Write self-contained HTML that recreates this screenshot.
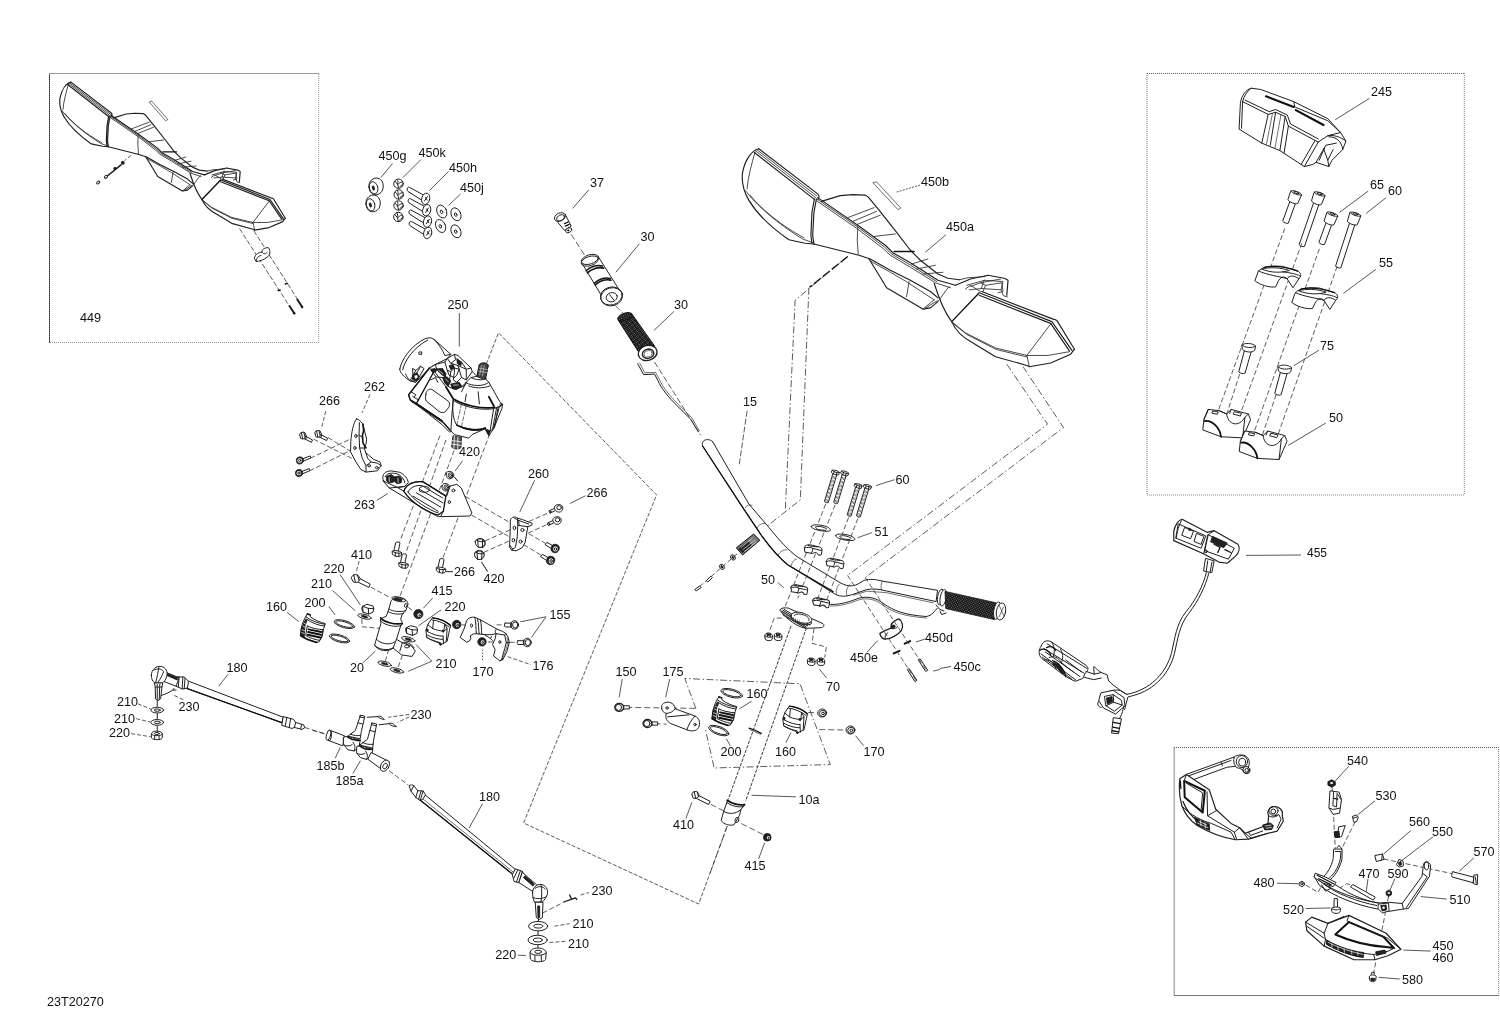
<!DOCTYPE html>
<html><head><meta charset="utf-8"><title>23T20270</title>
<style>
html,body{margin:0;padding:0;background:#fff;}
svg{display:block;}
text{font-family:"Liberation Sans",sans-serif;font-size:12.6px;fill:#111;}
.l{stroke:#202020;stroke-width:1;fill:none;stroke-linecap:round;stroke-linejoin:round;}
.t{stroke:#333;stroke-width:0.7;fill:none;stroke-linecap:round;stroke-linejoin:round;}
.h{stroke:#111;stroke-width:1.3;fill:none;stroke-linecap:round;stroke-linejoin:round;}
.w{stroke:#202020;stroke-width:1;fill:#fff;stroke-linecap:round;stroke-linejoin:round;}
.k{stroke:#111;stroke-width:0.8;fill:#222;stroke-linejoin:round;}
.d{stroke:#333;stroke-width:0.8;fill:none;stroke-dasharray:7 2.5 1.5 2.5;}
.ld{stroke:#3a3a3a;stroke-width:0.85;fill:none;}
path,line,polyline,polygon,ellipse,circle,rect{vector-effect:non-scaling-stroke;}
#guard .l{stroke:#1e1e1e;stroke-width:1.15;}
#guard .t{stroke:#2c2c2c;stroke-width:.85;}
#guard .h{stroke-width:1.4;}
.box{stroke:#555;stroke-width:0.9;fill:none;stroke-dasharray:1 1;}
</style></head><body>
<svg width="1500" height="1010" viewBox="0 0 1500 1010">
<rect x="0" y="0" width="1500" height="1010" fill="#fff"/>
<g id="boxes" fill="none" stroke-width="1">
<!-- box1 -->
<path d="M49.5,73 V343" stroke="#2a2a2a" stroke-dasharray="1.7 0.3"/>
<path d="M49,73.5 H319" stroke="#999"/>
<path d="M318.7,74 V343" stroke="#999" stroke-dasharray="1 1"/>
<path d="M50,342.5 H319" stroke="#999" stroke-dasharray="1 1"/>
<!-- box2 -->
<path d="M1147,73 V495" stroke="#777" stroke-dasharray="1 1"/>
<path d="M1147,73.5 H1464.5" stroke="#666" stroke-dasharray="1 1"/>
<path d="M1464.3,73 V495" stroke="#888" stroke-dasharray="1 1"/>
<path d="M1147,495 H1464.5" stroke="#888" stroke-dasharray="1 1"/>
<!-- box3 -->
<path d="M1174.2,747 V996" stroke="#888"/>
<path d="M1174,747.5 H1499" stroke="#555" stroke-dasharray="1 1"/>
<path d="M1498.6,747 V996" stroke="#888" stroke-dasharray="1 1"/>
<path d="M1174,995.5 H1499" stroke="#777"/>
</g>
<g id="labels" style="filter:grayscale(1)">
<text x="80" y="322">449</text>
<text x="378.5" y="159.5">450g</text>
<text x="418.5" y="157">450k</text>
<text x="449" y="172">450h</text>
<text x="460" y="191.5">450j</text>
<text x="590" y="187">37</text>
<text x="640.5" y="241">30</text>
<text x="674" y="309">30</text>
<text x="447.5" y="309">250</text>
<text x="921" y="186">450b</text>
<text x="946" y="231">450a</text>
<text x="1371" y="96">245</text>
<text x="1370" y="189">65</text>
<text x="1388" y="195">60</text>
<text x="1379" y="267">55</text>
<text x="1320" y="350">75</text>
<text x="1329" y="421.5">50</text>
<text x="1307" y="556.8" style="font-size:12px">455</text>
<text x="364" y="391">262</text>
<text x="319" y="405">266</text>
<text x="459" y="456">420</text>
<text x="354" y="508.8">263</text>
<text x="528" y="478">260</text>
<text x="586.5" y="497">266</text>
<text x="743" y="406">15</text>
<text x="895.5" y="484">60</text>
<text x="874.5" y="535.5">51</text>
<text x="761" y="583.5">50</text>
<text x="351" y="558.5">410</text>
<text x="323.5" y="572.5">220</text>
<text x="311" y="588">210</text>
<text x="304.5" y="607">200</text>
<text x="266" y="610.5">160</text>
<text x="431.5" y="595">415</text>
<text x="444.5" y="611.3">220</text>
<text x="454" y="576">266</text>
<text x="483.5" y="583">420</text>
<text x="549.5" y="618.5">155</text>
<text x="532.5" y="670">176</text>
<text x="472.5" y="676">170</text>
<text x="435.5" y="667.7">210</text>
<text x="350" y="671.5">20</text>
<text x="226.5" y="672">180</text>
<text x="117" y="706">210</text>
<text x="114" y="722.5">210</text>
<text x="109" y="737">220</text>
<text x="178.5" y="710.5">230</text>
<text x="410.5" y="719">230</text>
<text x="316.5" y="770">185b</text>
<text x="335.5" y="785">185a</text>
<text x="479" y="801">180</text>
<text x="591.5" y="894.7">230</text>
<text x="572.5" y="928">210</text>
<text x="568" y="948">210</text>
<text x="495.3" y="959.3">220</text>
<text x="615.5" y="676">150</text>
<text x="662.5" y="676">175</text>
<text x="746.5" y="697.7">160</text>
<text x="720.5" y="756">200</text>
<text x="775" y="756">160</text>
<text x="863.5" y="756">170</text>
<text x="826" y="691">70</text>
<text x="925" y="641.5">450d</text>
<text x="850" y="661.5">450e</text>
<text x="953.5" y="671">450c</text>
<text x="798.5" y="804">10a</text>
<text x="673" y="829">410</text>
<text x="744.5" y="869.5">415</text>
<text x="1347" y="765">540</text>
<text x="1375.5" y="800">530</text>
<text x="1409" y="825.5">560</text>
<text x="1432" y="836">550</text>
<text x="1473.5" y="855.5">570</text>
<text x="1358.5" y="878">470</text>
<text x="1387.5" y="878">590</text>
<text x="1253.5" y="887">480</text>
<text x="1449.5" y="903.5">510</text>
<text x="1283" y="913.5">520</text>
<text x="1432.5" y="950">450</text>
<text x="1432.5" y="961.7">460</text>
<text x="1402" y="983.8">580</text>
<text x="47" y="1006">23T20270</text>
</g>
<defs>
<g id="guard">
<!-- coordinates in 4x zoom space of region (730,135) -->
<!-- left paddle -->
<path class="l" d="M115,55 C85,62 60,100 50,150 C45,190 55,225 75,260 C105,310 165,370 235,418 L300,432 L335,435"/>
<path class="l" d="M115,55 L350,235 C356,240 357,250 352,256"/>
<path class="t" d="M108,59 L346,243 M103,64 L342,250"/><path class="l" d="M97,70 L338,258"/>
<path class="t" d="M100,68 C88,110 72,165 68,215"/>
<path class="t" d="M62,222 C100,275 190,355 290,415 L330,430 M80,240 C120,290 200,360 295,410"/>
<path class="l" d="M345,255 L335,310 L330,400 L335,435 M337,255 L327,310 L323,400 L327,432"/>
<!-- center -->
<path class="l" d="M365,265 L440,242 L490,238 L540,240 L552,248 L595,300 L670,395 L720,460 L760,500 L830,555 L870,572 L915,578"/>
<path class="l" d="M350,250 L510,360 L620,440 L650,470 L720,510 L830,580 L900,600"/>
<path class="t" d="M345,262 L505,372 L610,452 L640,480 L720,528 L820,590 L880,610"/>
<path class="t" d="M470,330 L575,290 M490,345 L585,305 M505,358 L600,320 M575,405 L660,395"/>
<path class="h" d="M655,465 L735,465"/>
<path class="t" d="M725,515 L790,495 M745,535 L820,520 M770,555 L850,548"/>
<path class="t" d="M510,365 L508,420 L512,475"/>
<path class="l" d="M335,435 L515,480 L560,495 L640,540 L720,580 L800,625 L830,650"/>
<path class="l" d="M555,495 L595,560 L625,610 L770,695 L800,690 L830,665"/>
<path class="t" d="M560,503 L640,548 L700,583 L760,622 L815,658 M715,585 L705,645 M770,695 L815,658 M780,692 L826,662"/>
<path class="l" d="M815,592 C830,640 850,700 885,745"/>
<path class="t" d="M830,665 C850,640 860,620 875,605"/>
<!-- neck -->
<path class="l" d="M900,600 L960,575 L1030,560 L1095,572 L1110,580 L1105,640"/>
<path class="t" d="M915,578 L950,570 L1020,565 M960,605 L1000,590 L1080,575 M1020,600 L1085,590 L1090,625 L1070,630 M940,615 L960,600 L1000,625 M1000,590 L1020,600 L1010,625"/>
<path class="t" d="M1016,580 L1090,585 L1082,618 L1005,613 Z M1082,618 L1092,642 L1107,646 M945,600 L1016,580 M955,618 L1005,613"/>
<!-- right paddle -->
<path class="h" d="M995,630 L885,745"/>
<path class="l" d="M1005,625 L1290,735 C1298,736 1303,738 1306,742 L1375,855"/>
<path class="l" d="M1000,632 L1285,745 L1365,860 M995,640 L1280,752 L1355,862"/>
<path class="l" d="M885,745 C900,780 930,810 970,830 L1060,885 L1185,920 L1195,925 L1280,910 L1360,875 L1375,855"/>
<path class="t" d="M885,745 L940,790 L1060,850 L1185,880 M1282,752 L1185,880 L1195,925 M1185,880 L1270,880 L1355,865"/>
<path class="t" d="M890,752 L945,796 L1062,856 L1185,886 M348,256 L508,366 L615,446 L645,475 L720,519 L825,585"/>
</g>
</defs>
<use href="#guard" transform="translate(730,135) scale(0.2505)"/>
<path class="t" d="M873.3,182.6 L876.5,181.8 L900.8,208.1 L898.3,209.4 Z"/>
<g id="box1">
<use href="#guard" transform="translate(51.4,72.8) scale(0.1701)"/>
<path class="t" d="M149.6,101.8 L151.6,101 L167.8,119.4 L166,120.6 Z"/>
<!-- dashed to clip & screws -->
<path class="d" style="stroke-dasharray:5 2" d="M239.6,228.7 L290,307 M253.9,230.9 L298,300"/>
<path class="w" d="M254.5,258 C255,254 259,252.5 262,252 C262,249.5 264,248 268,247.5 C270.5,249 270.5,254 268,256.5 C264,260 259,261.5 256.5,261.5 Z"/>
<path class="l" d="M262,252 C263,254 265,254.5 267,252.5 M256.5,261.5 C256,258.5 258,256 261,255.5"/>
<path class="h" d="M278,290.6 L280.2,290 M285.2,284 L287.4,283.4"/>
<path class="l" style="stroke-width:2" d="M289.5,306 L294.2,313.2 M297.3,299.5 L302,306.8"/>
<circle class="k" cx="294.3" cy="313.3" r="0.9"/><circle class="k" cx="302.1" cy="307" r="0.9"/>
<!-- left bolt assembly -->
<path class="d" style="stroke-dasharray:4 2" d="M131,155.5 L124.5,160.5"/>
<path class="l" style="stroke-width:1.6" d="M105.5,177.5 L121,164.8"/>
<circle class="k" cx="122.8" cy="162.8" r="1.5"/><circle class="k" cx="115" cy="168.5" r="1.2"/>
<ellipse class="w" cx="98.2" cy="182.5" rx="1.8" ry="1.1" transform="rotate(-38 98.2 182.5)"/>
<ellipse class="w" cx="106" cy="176.8" rx="1.8" ry="1.2" transform="rotate(-38 106 176.8)"/>
</g>
<g id="hw450" transform="translate(350,140) scale(0.1)">
<!-- spacers 450g -->
<g id="sp450">
<path class="w" d="M190,470 C185,420 215,385 262,380 C310,382 335,420 332,470 C330,515 300,545 255,548 C215,545 193,515 190,470 Z"/>
<ellipse class="l" cx="236" cy="478" rx="42" ry="62" transform="rotate(-15 236 478)"/>
<ellipse class="k" cx="234" cy="480" rx="10" ry="22" transform="rotate(-15 234 480)"/>
</g>
<use href="#sp450" transform="translate(-30,170)"/>
<!-- nuts 450k -->
<g id="nut450"><circle class="w" cx="485" cy="437" r="47"/><path class="l" d="M452,415 C470,430 480,445 485,480 M485,440 C500,425 515,415 528,418 M470,395 C480,410 482,425 478,440 M500,470 C505,455 515,448 530,450"/></g>
<use href="#nut450" transform="translate(2,108)"/><use href="#nut450" transform="translate(0,218)"/><use href="#nut450" transform="translate(-2,333)"/>
<!-- bolts 450h -->
<g id="bolt450"><path class="w" d="M735,550 L592,472 C575,465 562,500 580,515 L715,600"/><ellipse class="w" cx="757" cy="588" rx="40" ry="58" transform="rotate(15 757 588)"/><path class="l" d="M745,610 L775,565 M755,575 L770,600"/></g>
<use href="#bolt450" transform="translate(10,114)"/><use href="#bolt450" transform="translate(18,228)"/><use href="#bolt450" transform="translate(20,342)"/>
<!-- washers 450j -->
<g id="wash450"><ellipse class="w" cx="918" cy="715" rx="47" ry="68" transform="rotate(-25 918 715)"/><ellipse class="l" cx="915" cy="718" rx="12" ry="18" transform="rotate(-25 915 718)"/></g>
<use href="#wash450" transform="translate(142,28)"/><use href="#wash450" transform="translate(-12,145)"/><use href="#wash450" transform="translate(142,198)"/>
<path class="ld" d="M425,235 L310,375 M710,195 L530,375 M985,315 L795,505 M1105,540 L985,655"/>
</g>
<defs>
<pattern id="knurl" width="8" height="8" patternUnits="userSpaceOnUse" patternTransform="rotate(32)"><rect width="8" height="8" fill="#111"/><rect width="2.8" height="3" fill="#ddd"/></pattern>
</defs>
<g id="grip30" transform="translate(540,170) scale(0.20786)">
<!-- 37 plug -->
<path class="w" d="M78,243 L118,290 L150,270 L122,215 Z"/>
<ellipse class="w" cx="96" cy="226" rx="28" ry="19" transform="rotate(-25 96 226)"/>
<ellipse class="l" cx="99" cy="230" rx="20" ry="13" transform="rotate(-25 99 230)"/>
<path class="h" d="M118,258 L135,250 M122,270 L140,262"/>
<ellipse class="w" cx="138" cy="290" rx="16" ry="11" transform="rotate(-25 138 290)"/>
<ellipse class="k" cx="136" cy="291" rx="4" ry="3"/>
<path class="d" style="stroke-dasharray:6 3" d="M150,310 L215,410 M362,652 L402,692"/>
<!-- 30 inner tube -->
<path class="w" d="M200,445 L298,608 L380,575 L282,420 Z"/>
<ellipse class="w" cx="240" cy="430" rx="43" ry="22" transform="rotate(-18 240 430)"/>
<ellipse class="l" cx="240" cy="438" rx="43" ry="22" transform="rotate(-18 240 438)"/>
<path class="h" style="stroke-width:1.6" d="M222,485 C240,465 275,455 300,462 M228,495 C246,475 281,465 306,472 M262,545 C280,525 312,515 338,522 M266,553 C284,533 316,523 342,530"/>
<ellipse class="w" cx="345" cy="610" rx="53" ry="43" transform="rotate(-15 345 610)"/>
<ellipse class="l" cx="343" cy="606" rx="53" ry="43" transform="rotate(-15 343 606)"/>
<ellipse class="l" cx="345" cy="612" rx="27" ry="22" transform="rotate(-15 345 612)"/>
<path class="l" d="M335,600 L355,625"/>
<!-- 30 grip -->
<path d="M376,722 L472,872 L552,848 L440,690 Z" fill="url(#knurl)" stroke="#111" stroke-width="1"/>
<ellipse cx="408" cy="706" rx="36" ry="17" transform="rotate(-20 408 706)" fill="url(#knurl)" stroke="#111" stroke-width="1"/>
<ellipse class="w" style="stroke-width:1.4" cx="518" cy="880" rx="46" ry="36" transform="rotate(-15 518 880)"/>
<ellipse class="l" style="stroke-width:1.4" cx="520" cy="884" rx="28" ry="22" transform="rotate(-15 520 884)"/>
<ellipse class="t" cx="520" cy="884" rx="20" ry="15" transform="rotate(-15 520 884)"/>
<path class="ld" d="M235,95 L157,185 M478,355 L365,492 M645,680 L548,772"/>
</g>
<defs>
<pattern id="knurl2" width="1.7" height="1.7" patternUnits="userSpaceOnUse" patternTransform="rotate(25)"><rect width="1.7" height="1.7" fill="#111"/><rect width="0.6" height="0.65" fill="#ddd"/></pattern>
</defs>
<g id="handlebar">
<!-- long L dashed lines from guards -->
<path class="d" d="M847.7,256.5 L795.1,300.3 L785.3,510 M808.9,287.8 L800.3,499.9 L764.1,528.5"/>
<path class="d" d="M1006.8,364.2 L1047.5,424.2 L847.6,575.4 M1023,366.7 L1063.5,427.5 L865.3,577.5"/>
<path class="h" style="stroke-width:1.3;stroke-dasharray:9 2.5;stroke-linecap:butt" d="M847.7,256.5 L809.5,287.3"/>
<!-- cable lever -->
<path class="l" d="M637.7,363.7 L643.6,374.6 L654.5,374.1 L657.9,380.5 C661,388 669,398 677.2,405.8 L690.7,419.2 L698.3,431.9"/>
<path class="t" d="M639.6,363 L644.8,372.8 L655.6,372.4 L659.5,379.6 C662.6,387 670.5,397 678.5,404.6 L692,418.2 L699.4,430.8"/>
<path class="d" style="stroke-dasharray:6 2.5" d="M654.5,362 L700.8,435.2"/>
<!-- bar -->
<path class="w" d="M712.7,441.8 L748.9,504.1 L769.1,527.6 C780,541 788,550 797.7,557.1 L838.1,581.5 C846,586.5 852,587 858,584 L863.9,580.4 C870,578.5 876,579.5 882.3,581.1 L937.5,590.3 L936.1,601.6 L886.6,591 C879,589 873,588.5 866.7,589.6 L852.6,594.5 C846,596.5 841,597 835.6,594.5 L787.6,564.7 C778,557 769,546 760.7,534.4 L740.5,504.1 L702.6,446 C701.5,442 704,439.5 707.7,439.6 C710,439.8 711.5,440.5 712.7,441.8 Z"/>
<path class="h" d="M702.6,446 L740.5,504.1 L760.7,534.4 C769,546 778,557 787.6,564.7 L833.1,591.6"/>
<path class="t" d="M745.5,507.5 C746.5,505 749.5,504 752,505.5 M757.5,527.6 C759,524.5 762,523 765,523.5 M778.4,554.6 C780,551.5 783.5,549.5 787,549.8 M791,566.4 C792,562 794,559.5 796.5,559 M836.5,594.5 C835.5,590.5 837,586.5 839.5,584 M847,596 C845.5,591.5 847,587 850,584.5 M882.3,581.1 C881,584 880.5,587 881.6,590 M853.6,595.2 L866.8,591.2 L886,592.6 L933.3,602.9"/>
<!-- cable -->
<path class="l" d="M830.6,604.4 C841,605 851,601 859.6,598 C868,596 876.6,598 883.7,603.7 C893.6,610.8 905,615 926.2,616.5 C932,615.8 934.7,610.8 937.5,608"/>
<path class="t" d="M830.6,606 C841,606.6 851,602.6 859.6,599.6 C868,597.6 876,599.6 883,605.3 C893,612.4 905,616.6 926.6,618"/>
<!-- right grip -->
<ellipse class="w" cx="940.6" cy="597" rx="3" ry="8" transform="rotate(10 940.6 597)"/>
<ellipse class="w" cx="943.2" cy="597.8" rx="3" ry="8.4" transform="rotate(10 943.2 597.8)"/>
<path d="M945,591.4 L996,602.8 L994.4,619.6 L945.8,608.6 Z" fill="url(#knurl2)" stroke="#111" stroke-width="0.8"/>
<ellipse class="w" cx="997.2" cy="610.6" rx="3.4" ry="8.8" transform="rotate(10 997.2 610.6)"/>
<ellipse class="w" cx="1001" cy="611.5" rx="4.6" ry="8.6" transform="rotate(10 1001 611.5)"/>
<path class="t" d="M999,605 L1004,616 M1003.5,607 L999,617"/>
<path class="l" d="M936,605 C938,608 940,610 944,611 M940,611 L941.5,614.5 L946,613"/>
</g>
<defs>
<g id="bolt60"><!-- local: head top at 0,0 pointing down, zoom units 5.94 -->
<path class="w" d="M-12,14 L-12,188 C-6,193 6,193 12,188 L12,14 Z"/>
<path class="t" style="stroke-dasharray:2 2" d="M-5,30 L-5,186 M4,30 L4,186"/>
<path class="w" d="M-23,-2 C-23,-10 23,-10 23,-2 L22,12 C15,19 -15,19 -22,12 Z"/>
<path class="l" d="M-23,-2 C-15,5 15,5 23,-2 M-8,2 L-8,16 M9,2 L9,16"/>
</g>
<g id="clampU"><!-- upper saddle clamp; local origin = bbox left/top, zoom units -->
<path class="w" d="M4,22 C2,8 18,0 40,2 L98,16 C108,20 112,30 108,42 L104,62 L88,64 C84,50 72,44 60,50 C52,54 48,60 46,52 L10,46 Z"/>
<path class="l" d="M4,22 C20,14 40,16 56,24 L108,36 M56,24 C54,34 50,44 46,52 M28,6 C40,10 60,14 84,14"/>
</g>
</defs>
<g id="clampsB" transform="translate(690,430) scale(0.16835)">
<!-- dashed center lines for the 4 bolts -->
<path class="d" style="stroke-dasharray:5 2.5" d="M806,440 L560,1062 M862,445 L640,1000 M942,520 L735,1062 M997,525 L795,1055"/>
<use href="#bolt60" transform="translate(865,248) rotate(17)"/>
<use href="#bolt60" transform="translate(920,253) rotate(17)"/>
<use href="#bolt60" transform="translate(1000,328) rotate(17)"/>
<use href="#bolt60" transform="translate(1055,333) rotate(17)"/>
<!-- washers 51 -->
<g id="w51"><path class="w" d="M720,572 C722,562 750,560 790,568 C820,575 838,588 834,596 C828,604 795,603 765,596 C735,589 718,580 720,572 Z"/><path class="l" d="M745,576 C760,568 795,574 812,588 M748,580 L760,592 L805,596"/></g>
<use href="#w51" transform="translate(145,55)"/>
<!-- upper clamps -->
<use href="#clampU" transform="translate(675,680)"/>
<use href="#clampU" transform="translate(805,760)"/>
<!-- lower clamps 50 -->
<use href="#clampU" transform="translate(595,917) scale(0.95)"/>
<use href="#clampU" transform="translate(725,995) scale(0.95)"/>
<!-- connector -->
<path d="M275,700 L378,618 L415,655 L312,742 Z" fill="#777" stroke="#111" stroke-width="1"/>
<path class="k" d="M290,705 L345,662 L365,685 L312,728 Z"/>
<path d="M300,700 L372,642 M312,712 L388,652 M322,722 L398,662" stroke="#eee" stroke-width="0.7" fill="none" vector-effect="non-scaling-stroke"/>
<path class="d" style="stroke-dasharray:5 2.5" d="M280,735 L40,945"/>
<ellipse class="w" cx="255" cy="757" rx="13" ry="17" transform="rotate(-40 255 757)"/><ellipse class="k" cx="255" cy="757" rx="5" ry="8" transform="rotate(-40 255 757)"/>
<ellipse class="w" cx="190" cy="813" rx="13" ry="17" transform="rotate(-40 190 813)"/><ellipse class="k" cx="190" cy="813" rx="5" ry="8" transform="rotate(-40 190 813)"/>
<path class="w" d="M98,893 L124,868 L133,877 L107,902 Z M30,946 L58,926 L66,936 L38,955 Z"/>
<path class="ld" d="M1105,330 L1215,295 M995,640 L1080,610 M520,905 L557,937"/>
</g>
<defs>
<g id="nut70"><!-- small flanged nut, ~50x50 zoom units -->
<path class="w" d="M2,18 C2,6 14,0 28,2 C42,4 50,14 48,26 L46,40 C40,50 14,50 6,40 Z"/>
<path class="l" d="M2,18 C10,28 38,30 48,24 M16,4 L18,22 M36,6 L34,24"/>
<ellipse class="k" cx="25" cy="12" rx="9" ry="5"/>
</g>
</defs>
<g id="colTopD" transform="translate(690,560) scale(0.16835)">
<!-- column tube edges -->
<path class="t" style="stroke-width:0.9;stroke-dasharray:3.4 1.3;stroke:#222;stroke-linecap:butt" d="M600,392 L227.5,1421 M692,402 L330,1433"/>
<!-- mount plate -->
<path class="w" d="M535,296 C540,284 560,282 585,286 L790,378 C800,386 796,398 780,402 L735,404 L690,406 C650,400 600,370 560,330 Z"/>
<path class="l" d="M545,304 L690,398 M552,298 L700,392 M560,294 L712,386"/>
<path class="w" d="M600,330 C600,312 640,302 680,318 C715,332 730,350 720,366 C705,380 660,378 630,362 C610,352 600,342 600,330 Z"/>
<path class="l" d="M620,330 C625,318 655,316 685,330 C705,340 712,352 705,360 M600,330 L600,345 C610,368 680,395 720,380 L720,366"/>
<path class="t" d="M546,303 L558,329 M557,310 L567,334 M569,316 L577,340 M580,323 L586,346 M591,330 L596,351 M603,336 L606,357 M614,343 L615,362 M626,349 L625,368 M637,356 L634,373 M649,362 L644,379 M660,369 L654,384 M671,376 L663,390 M683,382 L673,396 M694,389 L682,401"/>
<path class="l" d="M553,326 L687,404"/>
<!-- nuts 70 -->
<use href="#nut70" transform="translate(442,432)"/><use href="#nut70" transform="translate(498,432)"/>
<use href="#nut70" transform="translate(695,580)"/><use href="#nut70" transform="translate(752,580)"/>
<path class="d" style="stroke-dasharray:5 2.5" d="M545,345 L500,345 L470,430 M737,405 L725,495 L810,517 L800,580"/>
<path class="ld" d="M770,650 L812,702"/>
<!-- clamp 450e -->
<path class="w" style="stroke-width:1.3" d="M1128,436 C1150,420 1175,412 1195,405 C1190,385 1200,365 1240,350 C1262,362 1270,395 1255,420 C1235,445 1195,468 1160,470 C1145,470 1130,455 1128,436 Z"/>
<path class="l" d="M1195,405 C1205,412 1220,410 1235,395 M1160,470 C1155,455 1160,440 1175,432"/>
<path class="k" d="M1196,392 C1205,385 1215,385 1220,392 C1215,405 1205,410 1196,405 Z"/>
<!-- 450d washers and 450c pins -->
<path class="h" style="stroke-width:2" d="M1275,497 L1308,482 M1210,555 L1245,540"/>
<path class="w" d="M1358,592 L1367,587 L1412,655 L1402,661 Z M1293,650 L1302,645 L1348,715 L1338,721 Z"/>
<path class="ld" d="M1115,478 L1052,548 M1342,487 L1395,470 M1445,660 L1485,650"/>
</g>
<!-- dashed lines through 450e/d/c -->
<path class="d" style="stroke-dasharray:5 2.5" d="M847.6,575.4 L916,680.5 M865.3,577.5 L926.5,670.5"/>
<path class="ld" d="M940,668.5 L951,666.5"/>
<defs>
<g id="bushL">
<path class="w" d="M235,150 L270,160 L275,185 C330,230 400,255 460,270 L440,330 L420,430 L380,500 L350,505 C280,480 200,450 150,420 L160,330 C170,270 200,200 235,150 Z"/>
<path class="k" d="M160,330 L215,215 L232,228 L206,300 L196,442 L150,420 Z"/>
<path d="M165,345 L205,360 M160,380 L200,395 M178,300 L212,315 M192,265 L222,280" stroke="#fff" stroke-width="0.7" fill="none"/>
<path class="l" d="M215,185 C280,235 380,270 455,278 M225,215 C290,262 380,295 448,300 M235,300 C300,330 380,345 430,345 L415,440 L390,480 C330,470 260,445 215,420 L235,300"/>
<path class="h" style="stroke-width:2" d="M252,342 L410,376 M246,376 L404,410 M240,410 L396,444"/>
<path class="h" style="stroke-width:1.6" d="M150,420 C200,455 290,490 350,505 M235,150 L270,160"/>
</g>
<g id="bushR">
<path class="w" d="M1120,265 C1200,270 1290,310 1345,355 L1330,420 L1300,560 L1240,590 L1215,610 L1200,580 C1150,560 1090,540 1045,510 L1035,420 L1060,350 Z"/>
<path class="h" d="M1120,265 C1200,275 1290,315 1340,360"/>
<path class="l" d="M1110,290 C1190,300 1270,335 1325,380 M1130,300 L1120,400 C1170,420 1220,430 1260,430 L1270,345 M1060,440 C1120,475 1200,495 1250,495 M1050,480 C1110,515 1190,535 1245,535 M1045,510 C1100,545 1170,565 1215,575 M1270,345 L1300,400 L1290,560 M1250,495 L1255,590 M1060,350 L1120,400 M1260,430 L1300,400"/>
<ellipse class="k" cx="1052" cy="420" rx="12" ry="16"/><path class="k" d="M1240,420 L1262,424 L1258,445 L1238,440 Z M1205,585 L1235,590 L1218,608 Z"/>
</g>
<g id="nut170"><ellipse class="w" cx="0" cy="0" rx="22" ry="20"/><ellipse class="l" cx="3" cy="2" rx="17" ry="15"/><ellipse class="l" cx="4" cy="2" rx="7" ry="6"/></g>
<g id="bolt150"><path class="w" d="M20,-8 L50,-8 L50,8 L20,8 Z"/><ellipse class="w" style="stroke-width:1.3" cx="0" cy="0" rx="22" ry="20"/><ellipse class="l" cx="-3" cy="0" rx="15" ry="15"/><path class="l" d="M22,-10 L22,10"/></g>
</defs>
<use href="#bushL" transform="translate(700,685) scale(0.08)"/><use href="#bushR" transform="translate(700,685) scale(0.08)"/>
<g id="colLowE" transform="translate(600,670) scale(0.20202)">
<!-- dash-dot parallelogram -->
<path class="d" d="M475,192 L420,42 L990,68 L1140,468 L565,485 L520,285"/>
<path class="d" style="stroke-dasharray:6 3" d="M130,185 L475,190 M270,265 L330,268 M1030,210 L1078,212 M1085,295 L1215,297"/>
<!-- rings 200 -->
<ellipse class="l" cx="652" cy="115" rx="55" ry="20" transform="rotate(15 652 115)"/><ellipse class="l" cx="652" cy="115" rx="46" ry="14" transform="rotate(15 652 115)"/>
<ellipse class="l" cx="588" cy="300" rx="53" ry="20" transform="rotate(20 588 300)"/><ellipse class="l" cx="588" cy="300" rx="44" ry="14" transform="rotate(20 588 300)"/>

<!-- clip on column -->
<path class="h" d="M738,288 L765,297 L798,314"/><path class="t" d="M742,296 L795,318"/>
<!-- bracket 175 -->
<path class="w" d="M305,190 C300,170 320,155 345,160 C362,165 372,178 372,192 L470,228 C492,238 498,262 488,285 C478,302 455,306 430,296 L350,265 C330,255 322,235 328,215 C315,212 307,202 305,190 Z"/>
<path class="l" d="M372,192 C365,205 345,215 328,215 M335,232 L440,222 M430,296 C438,272 452,245 470,228"/>
<circle class="l" cx="332" cy="188" r="6"/><circle class="l" cx="470" cy="270" r="6"/>
<use href="#bolt150" transform="translate(95,185)"/><use href="#bolt150" transform="translate(235,265)"/>
<use href="#nut170" transform="translate(1100,213)"/><use href="#nut170" transform="translate(1240,297)"/>
<!-- column bottom -->
<path class="w" d="M632,645 L612,700 L600,745 C612,765 648,773 664,765 L690,720 L698,690 L715,668"/>
<path class="h" style="stroke-width:1.8" d="M630,645 C650,662 690,672 716,666"/>
<path class="l" d="M626,655 C646,672 686,682 712,676 M612,700 C630,712 670,718 698,690"/>
<ellipse class="l" cx="678" cy="742" rx="9" ry="13" transform="rotate(20 678 742)"/>
<path class="d" style="stroke-dasharray:6 3" d="M630,772 L545,1005 M548,665 L622,702 M700,760 L810,816"/>
<!-- bolt 410 -->
<path class="w" d="M482,618 L545,650 L538,666 L474,634 Z"/>
<path class="w" d="M455,612 C458,602 472,598 482,604 L490,618 C488,632 474,640 462,634 Z"/><path class="l" d="M466,602 L474,636 M482,604 L488,628"/>
<!-- nut 415 -->
<circle class="k" cx="828" cy="828" r="19"/><circle cx="834" cy="830" r="8" fill="#fff"/><circle class="k" cx="835" cy="831" r="3"/>
<path class="ld" d="M455,655 L425,735 M815,855 L785,935 M750,620 L970,628 M110,45 L95,135 M345,45 L325,135 M750,155 L690,192 M625,340 L645,375 M945,310 L920,360 M1265,325 L1305,375"/>
</g>
<!-- big dash polygon -->
<path class="d" style="stroke-dasharray:4 1.7" d="M486.3,364 L498.5,332.8 L656.6,494.9 L523.6,823 L698.7,904 L727.3,826"/>
<g id="motorF" transform="translate(395,330) scale(0.11881)">
<!-- cylinder -->
<path class="w" d="M40,330 C50,260 130,130 260,70 L300,65 L330,80 L470,205 L440,240 L340,290 L290,320 L175,440 L130,430 C80,400 40,360 40,330 Z"/>
<path class="l" d="M65,335 C75,270 150,150 275,85 M330,80 C370,120 400,170 420,215 L470,205 M130,430 C110,410 95,390 90,370"/>
<rect class="l" x="205" y="185" width="20" height="20"/>
<!-- connector -->
<path class="w" d="M150,325 L175,340 L215,305 L245,325 L200,400 L175,440 L130,420 L150,385 Z"/>
<path class="k" d="M150,375 L185,360 L205,395 L175,430 L145,415 Z"/><path d="M162,385 L185,378 L192,398 L172,412 Z" fill="#fff"/>
<path class="l" d="M175,340 L150,385 M215,305 L185,360"/>
<!-- main box -->
<path class="w" d="M115,545 L290,320 L340,290 L420,270 L440,240 L500,205 L530,215 L640,320 L650,350 L690,390 L710,290 C730,270 770,275 785,295 L760,410 L790,440 L880,600 L905,625 L900,660 L830,830 L790,890 L760,830 L650,880 L620,910 L500,880 L470,850 L390,760 L180,620 L130,590 Z"/>
<path class="h" d="M115,545 L290,320 M115,545 L130,590 L180,620 L390,760 L470,850 M180,620 L330,345"/>
<path class="l" d="M150,560 L200,590 M135,520 L175,545 L165,560 M330,345 L430,480 L490,580 L480,700 L470,850 M200,640 L400,800 L460,860 M290,320 L300,330 L350,330 L400,330 M220,640 L240,670 L300,700"/>
<path class="l" d="M260,540 C255,520 285,490 310,500 L450,600 C465,615 460,640 450,655 L420,690 C405,700 385,695 370,685 L265,600 C255,585 255,560 260,540 Z"/>
<!-- housing top / bracket -->
<path class="l" d="M340,290 L350,330 M420,270 L440,340 L470,350 L500,320 L540,330 L560,400 L600,420 L650,350 M440,240 L470,280 L530,300 L600,330 L640,320 M500,205 L510,250 L470,280 M530,300 L540,330 M500,320 L500,360 L490,420 L520,440 L560,400 M560,270 L600,330 L600,420 M470,350 L460,420 L440,470 M400,330 L430,400 L440,470 L500,500 L560,480 L600,440"/>
<path class="k" d="M345,328 L400,325 L430,370 L420,395 L380,365 Z M400,400 L440,395 L470,430 L450,470 L420,450 Z M470,455 L540,440 L560,470 L520,500 L480,490 Z M520,240 L560,270 L555,300 L525,285 Z"/>
<path d="M365,338 L405,372 M425,410 L452,440 M490,465 L535,462" stroke="#fff" stroke-width="0.7" fill="none"/>
<path class="h" style="stroke-width:1.8" d="M430,482 L492,582"/>
<!-- dome -->
<path class="h" style="stroke-width:1.6" d="M500,585 C560,622 720,672 840,650"/>
<path class="l" d="M490,590 C520,625 700,685 830,662 L890,640 M600,445 C650,472 740,480 790,440 M640,400 C670,422 740,426 770,410 M560,520 L600,440 L640,400 L690,390 M700,520 L710,622 M600,540 L590,602 M490,590 C480,680 490,760 520,800 C600,850 700,860 760,830 M520,800 C600,838 700,848 760,822 M830,662 L800,850 M905,625 L880,640 L830,830 M760,830 L800,850 L830,830"/>
<path class="h" style="stroke-width:1.8" d="M790,562 L832,640"/>
<path class="t" style="stroke-dasharray:4 2" d="M560,622 L520,800 M600,632 L560,812"/>
<path class="k" d="M762,842 L800,852 L790,888 Z"/>
<path class="h" style="stroke-width:1.5" d="M520,800 C600,842 700,852 760,826 M130,590 L180,620 L392,762"/>
<path class="l" d="M855,655 L822,832 M868,648 L838,820 M300,420 L340,400 L360,440 M310,345 L345,395 L400,400 M440,340 L455,380 L500,400 M540,330 L520,380 L500,400 M600,440 L585,470 L560,480 M620,470 C660,490 740,495 800,470 M135,600 L395,775"/>
<path class="k" d="M300,335 L335,325 L350,345 L320,360 Z M455,300 L490,290 L500,318 L470,335 Z"/>
<circle class="l" cx="892" cy="628" r="9"/>
<!-- shafts -->
<path class="k" style="fill:#444" d="M690,392 L710,292 C730,272 770,276 785,296 L762,408 C740,412 710,405 690,392 Z"/>
<path d="M712,380 L730,295 M735,388 L752,298 M700,345 L778,360 M705,320 L782,335" stroke="#ddd" stroke-width="0.6" fill="none"/>
<path class="k" style="fill:#555" d="M488,890 L476,985 C495,1005 538,1006 556,990 L560,902 Z"/>
<path d="M476,930 L562,942 M474,960 L562,972 M500,890 L495,1000 M530,895 L528,1005" stroke="#fff" stroke-width="0.8" fill="none"/>
</g>
<path class="ld" d="M459.3,313 L459.3,346.5"/>
<!-- misc leaders -->
<path class="ld" style="stroke-dasharray:2 1.2" d="M896.6,192.1 L919.9,185.1"/>
<path class="ld" d="M925.4,252.2 L946,234.7"/>
<path class="d" style="stroke-dasharray:6 2" d="M747.1,410.8 L739.2,464.7"/>
<defs>
<g id="bolt266"><!-- flange bolt, head left, shaft to right-down; local zoom units -->
<path class="w" d="M30,22 L78,48 L72,62 L24,38 Z"/>
<path class="w" d="M2,14 C4,2 22,-2 34,6 L40,22 C38,38 22,46 10,40 Z"/>
<path class="l" d="M12,6 L20,42 M26,2 L34,34 M40,22 C46,30 42,42 34,46"/>
</g>
<g id="boltDk"><!-- dark hex head bolt, head left, shaft right-up -->
<path class="w" d="M38,14 L84,-4 L88,8 L42,28 Z"/>
<path class="k" d="M2,20 C2,8 14,0 28,2 C40,4 46,14 44,26 C42,38 30,46 16,44 C6,42 2,32 2,20 Z"/>
<ellipse cx="22" cy="23" rx="14" ry="13" fill="#fff"/><ellipse class="l" cx="22" cy="23" rx="7" ry="6"/>
</g>
<g id="nut420"><path class="w" d="M2,18 C2,6 16,0 30,4 C44,8 50,20 46,32 C42,44 28,50 16,46 C6,42 2,30 2,18 Z"/><ellipse class="l" cx="28" cy="26" rx="14" ry="15"/><ellipse class="l" cx="29" cy="27" rx="6" ry="7"/></g>
</defs>
<g id="brkG" transform="translate(280,380) scale(0.16835)">
<!-- dashed center lines from motor -->
<path class="d" style="stroke-dasharray:5 2.5" d="M950.4,330.3 L711,960 M986,356.4 L746,1030.6 M1034.2,418.2 L711,1289 M1246.2,318.4 L967,1059.7"/>
<path class="d" style="stroke-dasharray:5 2.5" d="M200,352 L520,512 M285,342 L575,518 M180,465 L450,335 M175,540 L445,405"/>
<use href="#bolt266" transform="translate(115,308)"/><use href="#bolt266" transform="translate(205,298)"/>
<use href="#boltDk" transform="translate(95,455)"/><use href="#boltDk" transform="translate(90,530)"/>
<!-- bracket 262 -->
<g transform="translate(59.4,178.2) scale(0.75238)">
<path class="w" d="M525,70 C500,100 485,180 480,250 L478,330 L520,410 L560,470 L600,490 L690,480 L720,440 L710,410 L660,390 L620,355 L600,340 L585,300 L600,270 L605,230 L590,170 L575,110 C560,90 540,72 525,70 Z"/>
<path class="l" d="M548,100 L545,200 L550,300 L570,380 L600,440 L600,490 M600,440 L640,410 L690,420 L720,440 M600,340 L612,380 L640,410 M545,200 L575,215 M550,300 L585,300"/>
<path class="h" style="stroke-width:1.6" d="M575,110 L582,160 L572,200 L576,260 L600,300"/>
<ellipse class="l" cx="520" cy="205" rx="9" ry="13"/><ellipse class="l" cx="512" cy="300" rx="9" ry="13"/><ellipse class="l" cx="625" cy="440" rx="11" ry="9"/><ellipse class="l" cx="685" cy="455" rx="11" ry="9"/>
</g>
<!-- link 263 -->
<path class="w" d="M612,590 C605,560 625,540 660,540 L710,548 C740,560 760,590 762,610 L740,632 L700,640 L650,640 Z"/>
<path class="l" d="M625,575 C630,555 660,550 690,556 C720,565 740,590 742,612"/>
<path class="k" d="M632,572 L660,562 L680,575 L678,605 L650,612 L632,598 Z M682,575 L708,570 L724,585 L720,610 L696,616 L682,604 Z"/>
<path d="M648,575 L650,605 M700,580 L702,610" stroke="#fff" stroke-width="0.7" fill="none"/>
<!-- base plate 263 -->
<path class="w" d="M612,600 L650,642 L900,792 L940,812 L1128,808 L1140,790 L1076,640 L1050,620 L1010,630 L990,690 L850,605 C800,598 750,615 735,660 L700,640 Z"/>
<path class="h" d="M735,660 C750,615 800,600 850,605 L985,690 L970,780 L940,802 C880,790 780,730 735,660 Z"/>
<path class="l" d="M760,665 C775,635 810,622 845,628 L965,700 M790,690 L940,780 M810,670 L955,755 M830,650 L968,730 M760,665 C800,720 880,770 940,790 M1010,630 L985,690 M970,780 L955,810 M650,642 L740,632"/>
<path class="l" d="M830,640 C850,625 880,630 890,650 C880,670 850,672 830,660 Z"/>
<ellipse class="l" cx="1030" cy="656" rx="9" ry="8"/><ellipse class="l" cx="1006" cy="725" rx="7" ry="9"/>
<use href="#nut420" transform="translate(985,540)"/><use href="#nut420" transform="translate(960,612)"/>
<path class="l" d="M1035,575 L1055,600"/>
<path class="d" style="stroke-dasharray:4 2" d="M535,85 L487,195 M272,185 L245,290"/>
<path class="ld" d="M575,715 L640,675 M1085,480 L1040,540"/>
</g>
<g id="brkH" transform="translate(440,470) scale(0.12875)">
<path class="d" style="stroke-dasharray:5 2.5" d="M195,205 L545,410 M245,350 L540,520 M350,550 L545,465 M340,640 L540,550 M690,400 L850,330 M685,490 L850,415 M690,495 L820,570 M650,580 L790,665"/>
<!-- bracket 260 -->
<path class="w" d="M548,385 C560,362 582,358 602,374 L640,385 L716,414 L712,430 L682,440 L662,560 L640,602 L590,628 L556,622 L540,600 L545,480 Z"/>
<path class="l" d="M602,374 L604,430 L600,520 L586,600 L556,622 M604,430 L682,440 M575,372 L612,392 L690,420 M612,392 L614,430"/>
<ellipse class="l" cx="578" cy="450" rx="10" ry="14"/><ellipse class="l" cx="570" cy="545" rx="10" ry="14"/><ellipse class="l" cx="640" cy="466" rx="12" ry="12"/><ellipse class="l" cx="626" cy="556" rx="12" ry="12"/>
<path class="l" d="M548,590 C550,605 556,612 566,610"/>
<!-- bolts 266 right upper -->
<g id="b266r"><path class="w" d="M850,315 L895,296 L902,312 L858,334 Z"/><ellipse class="w" cx="856" cy="325" rx="7" ry="10"/><path class="w" d="M890,285 C895,268 925,262 945,275 C960,290 955,315 935,325 C915,332 895,320 890,300 Z"/><ellipse class="l" cx="925" cy="292" rx="18" ry="16"/></g>
<use href="#b266r" transform="translate(-12,95)"/>
<!-- dark bolts right lower -->
<g id="bdkr"><path class="w" d="M818,578 L830,562 L880,590 L868,608 Z"/><path class="k" d="M868,590 C875,575 900,572 918,585 C932,600 928,625 910,638 C890,648 868,640 862,620 Z"/><ellipse cx="897" cy="613" rx="18" ry="20" fill="#fff"/><ellipse class="l" cx="898" cy="614" rx="9" ry="11"/></g>
<use href="#bdkr" transform="translate(-35,93)"/>
<!-- nuts 420 -->
<g id="n420h"><path class="w" d="M280,560 C282,538 305,528 328,535 C350,545 358,570 346,590 C332,606 305,606 290,592 C282,582 280,572 280,560 Z"/><path class="l" d="M292,545 C310,556 330,556 348,550 M300,540 L305,600 M335,540 L332,602"/><ellipse class="l" cx="318" cy="572" rx="14" ry="13"/></g>
<use href="#n420h" transform="translate(-10,92)"/>
<path class="ld" d="M735,80 L620,325 M1130,200 L1010,260 M322,715 L370,790 M45,790 L100,790"/>
</g>
<defs>
<g id="studV"><!-- vertical flange bolt, local: shaft top at (25,0) -->
<path class="w" d="M24,4 C28,0 44,2 48,8 L38,58 L14,54 Z"/>
<path class="w" d="M2,56 C4,48 50,54 58,66 L56,80 C50,92 14,90 4,76 Z"/><path class="l" d="M2,56 C14,68 44,72 58,66 M20,64 L20,86 M42,68 L40,90"/>
</g>
<g id="hexnut"><!-- 70x60 -->
<path class="w" d="M4,14 L30,2 L66,12 L70,28 L66,48 L40,60 L6,48 L0,32 Z"/><path class="l" d="M4,14 L38,26 L70,28 M38,26 L40,60 M6,48 L4,14"/>
</g>
<g id="washer"><ellipse class="w" cx="0" cy="0" rx="41" ry="13" transform="rotate(14)"/><ellipse class="k" cx="0" cy="0" rx="20" ry="5" transform="rotate(14)"/></g>
<g id="dknut"><circle class="k" cx="0" cy="0" r="25"/><ellipse cx="4" cy="3" rx="11" ry="12" fill="#fff"/><ellipse class="l" cx="5" cy="4" rx="5" ry="6"/></g>
</defs>
<use href="#bushL" transform="translate(288.5,602) scale(0.08)"/><use href="#bushR" transform="translate(343.1,596.6) scale(0.08)"/>
<g id="p20I" transform="translate(250,540) scale(0.16835)">
<path class="d" style="stroke-dasharray:5 2.5" d="M718,280 L832,342 M665,470 L665,515 L770,525 M940,400 L978,427 M860,520 L800,735 M935,600 L875,770"/>
<use href="#studV" transform="translate(843,10)"/><use href="#studV" transform="translate(882,80)"/><use href="#studV" transform="translate(1105,108)"/>
<!-- nuts 420 at top right -->
<g id="n420i"><path class="w" d="M1338,8 C1342,-8 1372,-12 1390,2 C1400,18 1392,38 1372,44 C1352,46 1336,30 1338,8 Z"/><path class="l" d="M1345,0 C1360,12 1380,12 1394,8 M1352,-5 L1356,42 M1382,-2 L1380,42"/></g>
<use href="#n420i" transform="translate(-4,72)"/>
<!-- bolt 410 -->
<path class="w" d="M640,222 L714,262 L706,282 L632,245 Z"/>
<path class="w" d="M602,225 C604,208 625,200 642,210 L654,228 C652,246 634,258 616,250 Z"/><path class="l" d="M616,206 L626,252 M638,208 L648,240"/>
<!-- part 20 -->
<path class="w" d="M838,362 C845,345 870,338 900,345 C925,352 940,365 938,385 L925,420 L905,440 L895,470 L905,492 L895,510 L870,590 L905,610 L960,630 L982,660 L962,692 L900,682 L850,642 C820,668 760,658 740,625 L778,495 L775,470 L810,452 L825,410 Z"/>
<ellipse class="l" cx="884" cy="352" rx="42" ry="13" transform="rotate(12 884 352)"/>
<path class="k" d="M858,345 L905,352 L900,362 L855,355 Z"/>
<path class="l" d="M825,410 C850,425 890,430 925,420 M820,425 C845,440 885,445 912,436"/>
<ellipse class="l" cx="926" cy="388" rx="8" ry="13" transform="rotate(15 926 388)"/>
<path class="h" style="stroke-width:1.6" d="M776,462 C790,485 860,505 904,496"/><path class="l" d="M775,470 C770,480 790,500 840,510 C870,516 900,512 906,500"/>
<path class="l" d="M740,625 C760,650 820,662 850,640 M752,590 C770,615 830,628 858,606 M870,590 L850,642 M905,610 L890,660 M905,610 C920,600 960,615 975,640"/>
<ellipse class="l" cx="932" cy="632" rx="14" ry="9"/>
<!-- nuts/washers -->
<use href="#hexnut" transform="translate(665,380)"/><use href="#washer" transform="translate(680,455)"/>
<use href="#hexnut" transform="translate(925,507)"/><use href="#washer" transform="translate(940,590)"/>
<use href="#washer" transform="translate(800,735)"/><use href="#washer" transform="translate(872,775)"/>
<circle class="k" cx="1000" cy="440" r="27"/><ellipse cx="1006" cy="446" rx="12" ry="11" fill="#fff"/><ellipse class="l" cx="1008" cy="448" rx="5" ry="5"/>
<!-- rings 200 -->
<ellipse class="l" cx="560" cy="500" rx="63" ry="21" transform="rotate(16 560 500)"/><ellipse class="l" cx="560" cy="500" rx="53" ry="14" transform="rotate(16 560 500)"/>
<ellipse class="l" cx="532" cy="585" rx="63" ry="21" transform="rotate(16 532 585)"/><ellipse class="l" cx="532" cy="585" rx="53" ry="14" transform="rotate(16 532 585)"/>
<!-- bushings 160 -->

<use href="#dknut" transform="translate(1228,502)"/><use href="#dknut" transform="translate(1378,605)"/>
<path class="ld" d="M535,205 L655,385 M490,300 L625,420 M468,395 L505,445 M220,430 L290,485 M670,730 L745,660 M1085,345 L1030,405 M1135,415 L1000,510 M985,620 L1080,720 L940,780 M1165,187 L1205,187 M1375,130 L1410,185"/>
<path class="d" style="stroke-dasharray:4 2" d="M648,125 L630,195"/>
</g>
<g id="brkJ" transform="translate(440,590) scale(0.10101)">
<path class="d" style="stroke-dasharray:5 2.5" d="M215,345 L300,350 M475,515 L585,515 M560,345 L640,345 M690,518 L770,518"/>
<!-- bracket 176 -->
<path class="w" d="M265,300 C280,275 310,265 345,270 L400,295 L560,385 L620,410 L652,430 L676,470 L686,520 L662,610 L622,690 L592,702 L530,652 L546,590 L520,540 L546,482 L556,432 L510,442 L440,442 L360,432 L330,436 L300,452 L306,480 L290,506 L264,516 L200,470 L240,380 Z"/>
<path class="l" d="M345,270 C358,320 354,380 360,432 M372,285 C384,330 380,385 388,436 M400,295 C412,340 408,390 414,440 M556,432 L640,446 L656,520 L640,582 L612,682 L592,702 M640,446 L652,430 M656,520 L686,520 M612,682 L622,690 M560,385 C545,395 540,415 556,432"/>
<path class="t" d="M664,470 L672,520 L650,606 L618,680"/>
<ellipse class="l" cx="312" cy="352" rx="10" ry="16"/><ellipse class="l" cx="592" cy="515" rx="10" ry="14"/>
<path class="l" d="M440,442 L500,480 L520,500 M500,480 L512,460"/>
<!-- bolts 155 -->
<g id="b155"><path class="w" d="M645,328 L705,328 L705,366 L645,366 C636,360 636,334 645,328 Z"/><ellipse class="w" cx="738" cy="346" rx="40" ry="42"/><ellipse class="l" cx="744" cy="346" rx="26" ry="30"/><path class="l" d="M706,320 L706,372"/></g>
<use href="#b155" transform="translate(126,174)"/>
<path class="ld" d="M1050,265 L795,315 M1050,265 L905,470"/>
<path class="d" style="stroke-dasharray:4 2" d="M670,660 L900,740"/>
<path class="ld" style="stroke-dasharray:1.5 1.5" d="M422,590 L420,705"/>
</g>
<defs>
<g id="wshr"><ellipse class="w" cx="0" cy="0" rx="38" ry="17"/><ellipse class="l" cx="0" cy="0" rx="18" ry="7"/></g>
<g id="nut220v"><path class="w" d="M0,18 C0,6 14,0 32,0 C52,0 66,8 66,18 L64,42 C58,54 10,54 2,42 Z"/><path class="l" d="M0,18 C10,30 56,30 66,18 M20,28 L20,50 M46,28 L46,50"/><ellipse class="l" cx="33" cy="14" rx="14" ry="6"/></g>
</defs>
<g id="tieK" transform="translate(100,650) scale(0.16835)">
<path class="d" style="stroke-dasharray:5 2.5" d="M1215,460 L1345,500"/>
<!-- rod -->
<path class="w" d="M525,185 L1090,400 L1080,432 L510,226 Z"/>
<path class="h" d="M510,226 L1080,432"/>
<!-- right end -->
<path class="w" d="M1090,396 L1150,412 L1162,430 L1210,445 L1216,462 L1200,472 L1155,460 L1140,466 L1082,448 Z"/><path class="l" d="M1110,400 L1100,452 M1132,408 L1124,460 M1162,430 L1155,460 M1198,442 L1192,468"/>
<!-- left collar/nut -->
<path class="w" d="M455,160 L500,160 L525,185 L520,225 L490,232 L452,215 Z"/><path class="l" d="M470,160 L465,222 M492,162 L488,230 M505,168 L500,230"/>
<!-- neck & ball -->
<path class="w" d="M380,128 L470,165 L452,215 L366,182 Z"/><path class="k" d="M400,140 L462,166 L458,178 L398,152 Z"/>
<path class="w" d="M305,150 C305,115 335,92 365,98 C392,104 404,130 396,158 C390,180 378,192 372,196 L325,196 C312,186 305,170 305,150 Z"/>
<path class="l" d="M320,120 C340,108 365,110 378,128 C370,150 360,170 345,190 M350,100 C345,130 340,160 330,195"/>
<path class="w" d="M325,196 L372,196 L368,220 L360,290 L342,302 L330,290 L328,220 Z"/><path class="l" d="M340,205 L340,295 M355,205 L352,292 M328,220 L368,220"/>
<path class="l" d="M340,302 L340,335 M340,378 L340,410 M340,450 L340,482"/>
<!-- cotter pin -->
<path class="l" d="M365,270 C390,262 410,252 432,238 L452,238 M432,238 L440,228"/>
<use href="#wshr" transform="translate(340,357)"/><use href="#wshr" transform="translate(340,430)"/>
<use href="#nut220v" transform="translate(305,482)"/>
<path class="ld" d="M760,145 L705,215"/>
<path class="d" style="stroke-dasharray:4 2" d="M225,320 L300,350 M215,408 L300,428 M185,497 L300,515 M495,295 L430,265"/>
</g>
<path class="w" d="M424.5,794.4 L515.8,869.8 L512.4,874 L419.4,799.4 Z"/><path class="t" d="M421.3,797.6 L513.6,872.4"/><path class="h" d="M419.4,799.4 L512.4,874"/>
<g id="tieL" transform="translate(310,690) scale(0.16835)">
<path class="d" style="stroke-dasharray:5 2.5" d="M15,240 L100,265 M470,480 L585,565"/>
<!-- 185b sleeve -->
<path class="w" d="M115,238 L205,272 L195,332 L105,298 Z"/><ellipse class="w" cx="110" cy="268" rx="12" ry="31" transform="rotate(15 110 268)"/><path class="l" d="M124,242 C132,258 128,290 116,302"/>
<!-- joint b -->
<path class="w" d="M200,280 L225,275 L298,300 L290,345 L262,362 L225,355 L200,325 Z"/>
<path class="l" d="M200,325 C215,335 235,335 250,325 M262,362 C270,345 268,325 255,310"/>
<path class="w" d="M270,238 L300,150 L326,156 L305,246 L298,290 L228,275 Z"/><path class="h" style="stroke-width:1.6" d="M224,280 C245,295 275,302 298,298"/><path class="l" d="M240,262 C258,270 280,274 300,270 M285,195 L312,202 M298,150 L296,160 L322,166"/>
<!-- joint a -->
<path class="w" d="M280,335 L300,328 L372,355 L365,395 L335,412 L300,402 L278,375 Z"/>
<path class="l" d="M278,375 C292,385 312,386 326,376 M335,412 C345,395 342,378 330,362"/>
<path class="w" d="M342,290 L368,195 L396,202 L378,298 L372,345 L298,328 Z"/><path class="h" style="stroke-width:1.6" d="M294,332 C315,348 348,356 372,350"/><path class="l" d="M312,312 C330,322 355,326 376,322 M356,240 L386,248 M366,196 L364,206 L392,212"/>
<!-- 185a sleeve -->
<path class="w" d="M365,372 L470,425 L440,482 L345,412 Z"/><ellipse class="w" cx="445" cy="450" rx="24" ry="36" transform="rotate(30 445 450)"/><ellipse class="l" cx="446" cy="452" rx="12" ry="18" transform="rotate(30 446 452)"/>
<!-- cotter pins -->
<path class="l" d="M340,162 L400,158 C415,150 430,160 440,175 M400,158 C410,168 425,172 440,175 M410,207 L468,200 C485,192 500,202 512,218 M468,200 C480,212 495,216 512,218"/>
<!-- rod 2 -->
<path class="w" d="M590,568 C596,562 608,562 616,568 L640,598 L672,600 L686,622 L668,652 L652,654 L630,640 L600,600 Z"/>
<path class="l" d="M640,598 L628,640 M660,600 L645,650 M672,600 L655,655 M600,600 L616,568"/>
<path class="ld" d="M180,340 L150,405 M300,420 L255,495 M1025,675 L945,820"/>
<path class="d" style="stroke-dasharray:4 2" d="M590,145 L465,162 M590,160 L520,192"/>
</g>
<g id="tieM" transform="translate(440,810) scale(0.16835)">

<!-- collar -->
<path class="w" d="M450,350 L490,365 L500,395 L470,432 L440,425 L430,385 Z"/><path class="l" d="M462,355 L440,402 M478,360 L455,425 M490,365 L468,432"/>
<path class="w" d="M490,372 L575,445 L548,482 L470,432 Z"/><path class="k" d="M505,390 L560,440 L552,452 L496,402 Z"/>
<!-- ball -->
<path class="w" d="M550,490 C550,460 575,440 600,442 C628,446 642,470 638,498 C634,520 618,535 610,545 L562,548 C552,530 550,510 550,490 Z"/>
<path class="l" d="M565,465 C585,450 610,452 625,470 M600,445 C606,475 606,510 600,545 M552,520 C570,530 610,528 632,515"/>
<path class="w" d="M568,548 L612,548 L608,640 L590,650 L574,640 Z"/><path class="k" d="M580,570 L592,570 L592,640 L582,640 Z"/>
<path class="d" style="stroke-dasharray:5 2.5" d="M610,612 L740,545"/>
<path class="h" d="M738,545 L805,522 M770,505 L782,530 M805,522 L812,530"/>
<path class="l" d="M585,650 L583,665 M583,718 L582,745 M582,800 L582,822"/>
<g transform="translate(583,690) scale(1.5,1.65)"><use href="#wshr"/></g><g transform="translate(580,772) scale(1.5,1.65)"><use href="#wshr"/></g>
<use href="#nut220v" transform="translate(535,820) scale(1.45,1.6)"/>
<path class="ld" d="M462,862 L510,865"/>
<path class="d" style="stroke-dasharray:4 2" d="M835,505 L885,490 M680,690 L770,675 M650,787 L745,780"/>
</g>
<defs>
<g id="sbolt"><!-- socket head bolt, head top center (0,0), down y; shaft length via scaleless: use different paths -->
<path class="w" d="M-27,2 C-27,-8 27,-8 27,2 L24,46 C15,54 -15,54 -24,46 Z"/><path class="l" d="M-27,2 C-18,10 18,10 27,2"/><ellipse class="l" cx="0" cy="0" rx="12" ry="4"/>
</g>
<g id="clamp55"><!-- 200x100 -->
<path class="w" d="M15,22 C28,4 70,-2 120,2 L190,24 C204,34 202,48 192,56 L166,96 L140,56 C126,42 110,48 100,70 L90,92 C60,96 20,82 0,66 Z"/>
<path class="l" d="M15,22 C50,40 110,46 140,56 M192,56 C170,40 150,40 140,56 M30,14 C60,4 110,6 150,20 C120,30 70,32 30,14 M120,26 C150,30 180,34 196,44"/>
<path class="h" d="M40,6 C80,-2 140,6 186,22"/>
</g>
<g id="block50"><!-- 210x130 -->
<path class="w" d="M25,5 L70,10 L105,25 L125,5 L200,25 L210,50 L175,130 L80,125 L0,95 L5,50 Z"/>
<path class="l" d="M105,25 C110,75 160,85 185,40 M25,5 L5,50 M70,10 L105,25 M125,5 L118,22 M200,25 L185,40 L175,130 M140,15 L170,22 L165,34 L135,26 Z M45,12 L68,16 L64,26 L42,22 Z"/>
<path class="h" style="stroke-width:1.8" d="M8,56 C40,50 75,85 80,125"/>
</g>
</defs>
<g id="box2a" transform="translate(1200,75) scale(0.21297)">
<!-- cover 245 -->
<path class="w" d="M190,130 C195,95 215,70 240,62 L285,68 L440,125 L445,150 L600,215 L660,270 L685,310 L670,350 L620,400 L605,430 L545,410 L530,420 L490,430 L375,355 L290,320 L185,255 Z"/>
<path class="l" d="M200,125 L320,185 L355,175 L400,195 L415,240 L555,315 L600,285 L660,270 M200,125 L195,250 M200,125 C205,100 220,78 240,62 M320,185 L290,320 M355,175 L330,330 M400,195 L375,355 M415,240 L395,365 M555,315 L490,430 M540,308 L475,420 M212,118 L325,172 L355,162 L410,188 L425,230 L555,300"/>
<path class="t" d="M340,182 L312,325 M380,188 L352,342"/>
<path class="h" style="stroke-width:2.2" d="M310,100 L440,150 M450,165 L580,235"/>
<path class="l" d="M440,125 L600,205 L660,270 M605,290 C640,290 665,310 670,350 M560,400 L590,330 L640,320 M545,410 L585,340 M580,345 L600,400 L625,350 M600,400 L605,430 M600,285 C625,280 660,290 685,310"/>
<!-- bolts -->
<g transform="translate(452,552) rotate(20)"><path class="w" d="M-14,40 L-14,148 C-8,153 8,153 14,148 L14,40 Z"/><use href="#sbolt"/></g>
<g transform="translate(562,557) rotate(19)"><path class="w" d="M-13,40 L-13,258 C-8,263 8,263 13,258 L13,40 Z"/><use href="#sbolt"/></g>
<g transform="translate(622,652) rotate(20)"><path class="w" d="M-14,40 L-14,148 C-8,153 8,153 14,148 L14,40 Z"/><use href="#sbolt"/></g>
<g transform="translate(730,652) rotate(18)"><path class="w" d="M-13,40 L-13,262 C-8,267 8,267 13,262 L13,40 Z"/><use href="#sbolt"/></g>
<path class="ld" d="M795,110 L635,210 M790,545 L655,645 M875,575 L780,650"/>
</g>
<g id="box2b" transform="translate(1180,250) scale(0.22774)">
<path class="d" style="stroke-dasharray:5 2.5" d="M460,-95 L170,700 M535,-30 L268,712 M612,-5 L325,800 M690,72 L430,812 M262,545 L205,722 M422,635 L362,812"/>
<use href="#clamp55" transform="translate(330,70)"/><use href="#clamp55" transform="translate(492,165)"/>
<!-- bolts 75 -->
<g id="b75"><path class="w" d="M282,445 L258,535 C264,542 278,545 286,540 L312,448 Z"/><path class="w" d="M272,418 C280,406 320,408 332,422 L328,440 C318,452 288,450 276,438 Z"/><path class="l" d="M272,418 C285,430 318,432 332,422"/></g>
<use href="#b75" transform="translate(158,95)"/>
<use href="#block50" transform="translate(100,695)"/><use href="#block50" transform="translate(260,790)"/>
<path class="ld" d="M860,85 L718,190 M610,440 L500,508 M640,760 L475,858"/>
</g>
<g id="sw455" transform="translate(1030,505) scale(0.23764)">
<!-- cable -->
<path class="l" d="M742,285 C728,340 698,400 656,450 C616,500 610,560 596,620 C576,700 516,768 428,792 L408,797 C388,788 376,776 350,758 L330,738"/>
<path class="l" d="M752,288 C738,344 708,404 668,456 C628,506 622,564 608,624 C588,706 526,778 434,802 L412,808 L398,860 M408,797 L380,780 C360,776 335,780 320,790"/>
<!-- switch housing -->
<path class="w" style="stroke-width:1.2" d="M605,110 C610,85 625,62 640,60 L745,115 L775,108 L875,165 C885,180 880,200 865,215 L830,245 L795,240 L730,205 L605,150 Z"/>
<path class="l" d="M625,80 L740,130 L720,182 L615,140 Z M652,95 L688,110 L676,142 L640,128 Z M702,120 L732,132 L720,166 L692,154 Z M750,125 L860,182 L835,228 L735,192 Z M640,60 C632,75 622,95 615,140 M775,108 L750,125 L735,192 L730,205"/>
<path class="k" d="M768,132 L830,160 L815,180 L760,155 Z"/><path class="h" d="M775,165 L800,178 L790,200 M820,188 L845,200"/>
<circle class="l" cx="740" cy="195" r="6"/><circle class="l" cx="672" cy="103" r="5"/>
<path class="w" d="M740,225 L775,235 L765,285 L732,278 Z"/><path class="l" d="M748,235 L742,276 M766,240 L758,282"/>
<!-- left connector bundle -->
<path class="w" d="M48,592 C52,574 72,566 90,576 L238,676 C248,686 244,700 232,708 L222,730 L190,742 L150,722 L58,652 C36,640 32,614 48,592 Z"/>
<path class="l" d="M58,604 L228,708 M72,584 L240,688 M46,626 L192,736 M64,618 L210,722 M52,640 L175,732 M90,576 C100,590 108,610 98,636 M128,606 C138,622 142,644 132,664 M80,642 C100,632 120,642 130,662 L182,702 M60,652 C80,648 100,662 110,690 M150,652 L216,702"/>
<path class="h" d="M95,655 C115,660 145,690 150,722 M70,600 C85,592 100,598 108,612 M40,612 C60,600 80,610 88,632"/>
<path class="k" d="M100,662 C118,668 138,690 142,712 L128,704 C122,690 110,676 96,672 Z"/>
<!-- junction -->
<path class="l" d="M235,700 L270,712 L300,705 L325,715 L330,738 M228,725 L268,735 L300,728 M270,680 C280,690 290,700 300,705 M268,682 L270,712"/>
<!-- lower connector -->
<path class="w" d="M300,790 L350,780 L395,810 L400,845 L360,880 L310,855 L290,825 Z"/>
<path class="l" d="M315,805 L350,798 L385,822 L388,842 L355,868 L320,845 Z M350,798 L352,830 L320,845 M352,830 L388,842"/><path class="k" d="M322,812 L345,806 L347,828 L325,838 Z"/>
<path class="l" d="M290,825 C280,835 285,850 300,852 M395,845 C390,870 385,885 378,895"/>
<path class="w" d="M352,895 L385,900 L372,962 L345,960 Z"/><path class="h" d="M350,915 L380,920 M348,935 L376,940 M346,950 L374,955"/>
</g>
<path class="ld" d="M1246,555.4 L1301,555"/>
<g id="box3a" transform="translate(1170,745) scale(0.10893)">
<!-- top arm -->
<path class="w" d="M150,270 L590,110 C620,88 670,84 702,106 C730,130 735,170 718,205 C740,215 742,250 715,262 C690,268 668,250 668,228 L640,215 C620,212 605,205 600,195 L520,205 L210,320 Z"/>
<path class="l" d="M175,282 L560,142 M470,160 L480,190 M590,110 C580,140 585,175 600,195"/>
<ellipse class="l" cx="660" cy="152" rx="52" ry="55"/><ellipse class="l" cx="662" cy="158" rx="32" ry="36"/>
<ellipse class="l" cx="700" cy="228" rx="30" ry="32"/><ellipse class="l" cx="704" cy="232" rx="16" ry="18"/>
<!-- shield -->
<path class="w" style="stroke-width:1.2" d="M150,270 L90,310 C80,400 85,480 110,560 C140,640 180,690 250,740 C350,800 480,850 600,870 L720,865 L760,850 L900,810 L985,790 L1040,700 L1030,640 C1040,600 1000,560 950,565 C905,575 890,610 905,650 L900,720 L850,750 L720,800 L690,810 L640,760 L560,720 L420,590 L360,410 Z"/>
<path class="h" style="stroke-width:2" d="M130,330 L320,420 L300,620 L135,480 Z"/>
<path class="l" d="M150,270 L130,330 M150,350 L300,440 L285,600 M340,430 L345,650 L430,600 M345,650 L590,800 L640,760 M110,560 C180,640 300,700 380,720 L560,800 L600,870 M590,800 L610,860 M640,760 L720,865 M690,810 L745,855"/>
<path class="k" d="M225,665 L360,725 L365,785 L250,735 Z"/><path d="M245,690 L340,735 M250,715 L350,760 M280,690 L285,745 M320,710 L325,765" stroke="#fff" stroke-width="0.7" fill="none"/>
<path class="h" d="M120,520 C150,600 200,660 260,700 M100,400 L95,330"/>
<path class="l" d="M740,860 L900,810 M720,800 L740,830 L850,790"/>
<ellipse class="l" cx="950" cy="605" rx="42" ry="40"/><ellipse class="l" cx="948" cy="610" rx="22" ry="22"/>
<path class="k" d="M850,735 L920,715 L950,740 L935,775 L870,780 Z"/><path d="M870,745 L930,735 M880,765 L935,755" stroke="#fff" stroke-width="0.7" fill="none"/>
<path class="l" d="M960,650 L1000,640 L1020,680 L985,760 M905,650 C930,665 960,665 985,650"/>
</g>
<g id="box3b" transform="translate(1240,750) scale(0.24762)">
<path class="d" style="stroke-dasharray:5 2.5" d="M372,150 L385,400 M465,290 L410,400 M580,440 L860,500 M600,590 L540,900 M265,545 L315,575 L330,548 M400,560 L430,540 L450,545"/>
<!-- 540 nut -->
<path class="k" d="M355,128 L370,120 L385,128 L385,142 L370,150 L355,142 Z"/><ellipse cx="370" cy="133" rx="6" ry="4" fill="#fff"/>
<!-- clamp bracket -->
<path class="w" d="M365,165 L400,170 L410,200 L402,255 L376,260 L360,235 Z"/><path class="l" d="M378,170 L375,225 L390,230 L392,175 M360,235 L376,240 L402,235 M395,180 L408,200"/><path class="h" d="M380,195 L395,198"/>
<!-- small part -->
<path class="w" d="M400,310 L425,305 L410,350 L395,352 Z"/><path class="k" d="M380,330 L400,328 L402,352 L384,354 Z"/>
<!-- 530 screw -->
<path class="w" d="M455,268 L470,262 L478,272 L470,290 L462,292 Z"/><path class="l" d="M458,275 L474,270"/>
<!-- frame 510 -->
<path class="w" d="M380,400 L412,400 L412,440 C402,480 382,512 355,532 L392,548 C450,590 520,612 560,618 L600,615 L655,620 L735,510 L740,470 C740,448 760,444 770,465 L765,510 L680,640 L660,642 L600,652 L555,642 C470,626 380,592 320,546 L300,510 L330,518 C352,500 370,470 376,440 Z"/>
<path class="l" d="M385,410 L408,410 L405,440 C396,478 378,506 352,524 M300,510 C350,560 450,600 560,618 M336,540 C390,580 470,612 552,628 M655,620 L660,642 M740,500 L756,512 L672,636 M392,395 L400,385 L412,400"/>
<ellipse class="l" cx="753" cy="468" rx="9" ry="16"/>
<path class="w" d="M305,498 L345,513 L388,535 L376,552 L335,537 L300,515 Z"/><path class="h" d="M312,506 L378,540 M318,520 L368,545"/>
<path class="l" d="M330,545 L345,570 L365,560 L360,545"/>
<path class="w" d="M560,622 L600,618 L602,650 L575,658 L558,642 Z"/><path class="k" d="M568,628 L590,626 L592,646 L574,650 Z"/><ellipse cx="580" cy="637" rx="5" ry="5" fill="#fff"/>
<!-- 470 rod -->
<path class="w" d="M447,552 L455,543 L546,594 L539,605 Z"/>
<!-- 590 nut -->
<path class="k" d="M590,572 L602,565 L612,572 L612,584 L600,592 L590,584 Z"/><ellipse cx="601" cy="577" rx="5" ry="4" fill="#fff"/>
<!-- 480 nut -->
<path class="w" d="M240,536 L250,530 L260,536 L260,546 L250,552 L240,546 Z"/><ellipse class="l" cx="250" cy="540" rx="5" ry="4"/>
<!-- 520 bolt -->
<path class="w" d="M382,600 L393,600 L394,636 L381,636 Z"/><path class="w" d="M370,640 C372,632 402,632 406,640 L404,654 C398,662 378,662 372,654 Z"/><path class="l" d="M370,640 C380,648 396,648 406,640"/>
<!-- 560 / 550 -->
<path class="w" d="M546,426 L575,420 L582,442 L552,450 Z"/><path class="l" d="M575,420 L572,444"/>
<path class="w" d="M632,462 L642,442 L658,448 L660,468 L645,472 Z"/><path class="k" d="M640,455 L650,450 L652,464 L643,466 Z"/>
<!-- 570 pin -->
<path class="w" d="M860,492 L945,514 L941,536 L857,513 C853,506 855,496 860,492 Z"/><path class="w" d="M946,505 L960,503 L958,545 L944,540 Z"/><path class="l" d="M950,512 L954,538"/>
<!-- shield 450/460 -->
<path class="w" style="stroke-width:1.2" d="M265,695 L290,675 L355,700 L440,668 L590,740 L650,805 L600,830 L545,847 L460,847 L340,792 L270,730 Z"/>
<path class="h" style="stroke-width:2" d="M385,745 L440,695 L580,755 L622,800 L590,796 C520,790 440,770 385,745 Z"/>
<path class="l" d="M265,695 L340,740 L355,700 M340,740 L345,765 C400,800 470,820 540,826 L545,847 M345,765 L340,792 M355,700 L420,672 M540,826 L600,812 L622,800 M270,712 L340,760 M440,668 L432,690 L596,760 L650,805"/>
<path class="k" d="M350,768 C400,796 450,812 500,818 L498,838 C450,832 395,812 348,784 Z"/><path d="M370,782 L372,798 M395,792 L397,810 M420,802 L422,818 M450,810 L452,826 M475,814 L477,830 M355,776 C400,800 450,815 498,826" stroke="#fff" stroke-width="0.7" fill="none"/>
<path class="k" d="M548,815 L585,808 L590,820 L552,830 Z"/>
<!-- 580 bolt -->
<path class="w" d="M522,915 C524,906 548,906 550,915 L548,930 C542,938 528,938 524,930 Z"/><path class="k" d="M528,922 L544,922 L542,932 L530,932 Z"/><path class="l" d="M530,906 L532,898 L542,898 L542,906"/>
<path class="ld" d="M440,65 L385,125 M545,205 L475,262 M690,325 L580,420 M780,350 L655,445 M945,435 L885,490 M517,520 L510,570 M625,520 L605,568 M150,538 L235,540 M265,640 L365,638 M730,592 L835,602 M660,808 L770,812 M560,918 L645,925"/>
</g>
</svg>
</body></html>
